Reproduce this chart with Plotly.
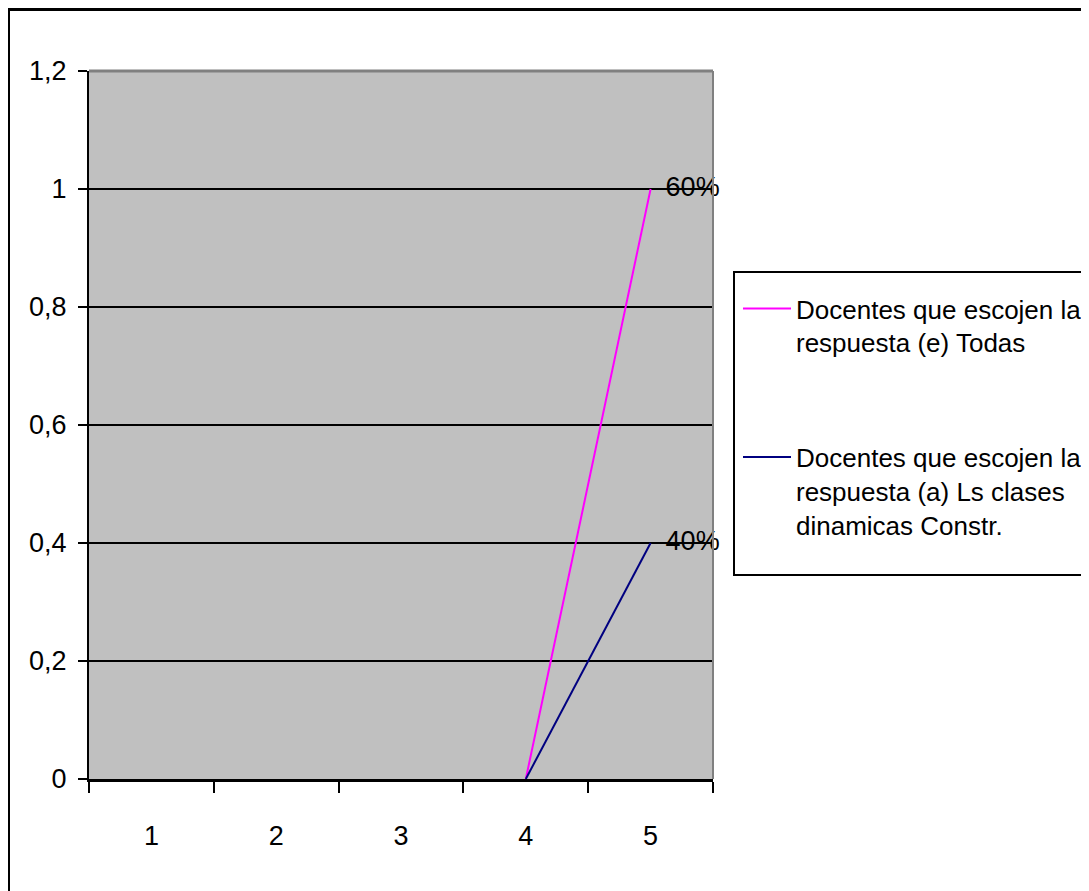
import plotly.graph_objects as go

categories = ["1", "2", "3", "4", "5"]
serie_todas = [None, None, None, 0, 1.0]
serie_clases = [None, None, None, 0, 0.4]
labels_todas = ["", "", "", "", "\u00a0\u00a060%"]
labels_clases = ["", "", "", "", "\u00a0\u00a040%"]
name_todas = "Docentes que escojen la<br>respuesta (e) Todas"
name_clases = "Docentes que escojen la<br>respuesta (a) Ls clases<br>dinamicas Constr."

FONT = "Liberation Sans Narrow, Arial Narrow, Liberation Sans, Arial, sans-serif"

fig = go.Figure()
fig.add_trace(go.Scatter(
    x=categories, y=serie_todas, name=name_todas, mode="lines+text",
    text=labels_todas, textposition="middle right",
    textfont=dict(size=27, color="black", family=FONT),
    line=dict(color="#FF00FF", width=2), legendgroup="a", connectgaps=False,
    cliponaxis=False,
))
fig.add_trace(go.Scatter(
    x=categories, y=serie_clases, name=name_clases, mode="lines+text",
    text=labels_clases, textposition="middle right",
    textfont=dict(size=27, color="black", family=FONT),
    line=dict(color="#000080", width=2), legendgroup="b", connectgaps=False,
    cliponaxis=False,
))

OFF = 8  # page body margin offset
W, H = 1089 - OFF, 891 - OFF
L, R, T, B = 89 - OFF, 713 - OFF, 71 - OFF, 779 - OFF
pw, ph = R - L, B - T


def px(sx):
    return (sx - OFF - L) / pw


def py(sy):
    return 1 - (sy - OFF - T) / ph


fig.update_layout(
    width=W, height=H,
    margin=dict(l=L, r=W - R, t=T, b=H - B, pad=0, autoexpand=False),
    paper_bgcolor="white", plot_bgcolor="#C0C0C0",
    separators=",.",
    font=dict(family=FONT, size=27, color="black"),
    showlegend=True,
    legend=dict(
        x=px(738), y=py(285), xanchor="left", yanchor="top",
        borderwidth=0, bgcolor="rgba(0,0,0,0)",
        font=dict(size=26, family=FONT, color="black"),
        tracegroupgap=78, valign="top", itemwidth=48,
    ),
    xaxis=dict(
        type="category", categoryorder="array", categoryarray=categories,
        range=[-0.5, 4.5], tickson="boundaries", ticks="outside", ticklen=11,
        tickwidth=2, tickcolor="black", showline=True, linecolor="black",
        linewidth=3, showgrid=False, zeroline=False, ticklabelstandoff=31,
        fixedrange=True,
    ),
    yaxis=dict(
        range=[0, 1.2], dtick=0.2, tick0=0, ticks="outside", ticklen=9,
        tickwidth=2, tickcolor="black", showline=True, linecolor="black",
        linewidth=2, showgrid=True, gridcolor="black", gridwidth=2,
        zeroline=False, ticklabelstandoff=6, fixedrange=True,
    ),
    shapes=[
        dict(type="line", xref="paper", yref="paper", x0=0, x1=1, y0=1, y1=1,
             line=dict(color="#808080", width=3), layer="above"),
        dict(type="line", xref="paper", yref="paper", x0=1, x1=1, y0=0, y1=1,
             line=dict(color="#808080", width=2), layer="above"),
        # outer chart border
        dict(type="rect", xref="paper", yref="paper",
             x0=px(8.5), x1=2.0, y0=-1.0, y1=py(9.5),
             line=dict(color="black", width=3), fillcolor="rgba(0,0,0,0)",
             layer="below"),
        # legend box
        dict(type="rect", xref="paper", yref="paper",
             x0=px(734), x1=px(1100), y0=py(575), y1=py(272),
             line=dict(color="black", width=2), fillcolor="white",
             layer="below"),
    ],
)

fig.write_html("out.html")
